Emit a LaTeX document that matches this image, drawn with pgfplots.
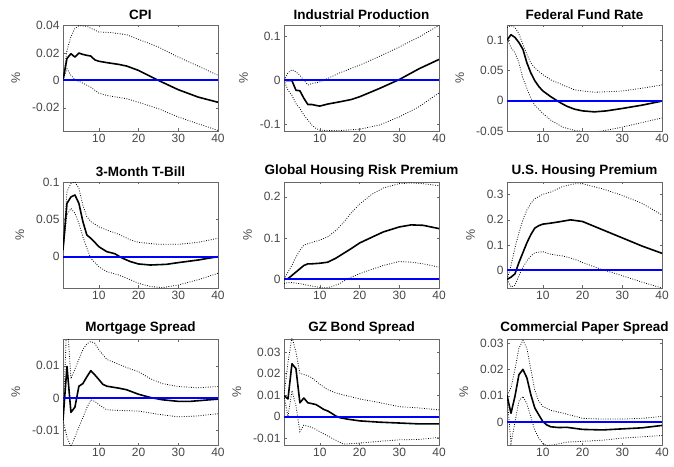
\documentclass[border=0pt]{standalone}
\usepackage{fontspec}
\setmainfont{Liberation Sans}
\usepackage{pgfplots}
\pgfplotsset{compat=1.18}
\definecolor{axgray}{RGB}{38,38,38}
\definecolor{mblue}{RGB}{0,0,255}
\pgfplotsset{
  irf/.style={
    scale only axis, width=155pt, height=106pt, anchor=south west,
    xmin=1, xmax=40, xtick={10,20,30,40},
    scaled y ticks=false,
    /pgf/number format/assume math mode=true,
    /pgf/number format/fixed,
    /pgf/number format/precision=3,
    tick label style={font=\fontsize{12}{14}\selectfont, text=axgray!85},
    axis line style={axgray!70, line width=0.4pt},
    major tick style={axgray!70, line width=0.4pt},
    major tick length=2.5pt,
    tick align=inside,
    title style={font=\bfseries\fontsize{13.5}{15}\selectfont, yshift=-4.5pt},
    ylabel={\%},
    ylabel style={font=\fontsize{12.5}{14}\selectfont, text=axgray!85, yshift=5pt},
    clip=true,
  },
  mainl/.style={black, line width=1.6pt, line join=round},
  band/.style={black, line width=0.8pt, dash pattern=on 0.8pt off 1.6pt},
  zerol/.style={mblue, line width=2pt},
}
\begin{document}
\begin{tikzpicture}[x=1pt,y=1pt]
\path[use as bounding box] (0,0) rectangle (674,466);
% ---------- Row 1 ----------
\begin{axis}[irf, at={(63pt,335pt)}, title={CPI}, ymin=-0.037, ymax=0.0405, ytick={-0.02,0,0.02,0.04}]
\addplot[band] coordinates {(1,0)(2,0.022)(3,0.032)(4,0.038)(5,0.040)(7,0.0395)(10,0.0354)(13,0.035)(17,0.0334)(20,0.030)(25,0.0244)(30,0.017)(35,0.0105)(40,0.0037)};
\addplot[band] coordinates {(1,0)(2,0.0085)(3,0.0037)(4,0.0005)(6,-0.002)(8,-0.005)(10,-0.0093)(12,-0.011)(17,-0.0134)(20,-0.016)(25,-0.0207)(30,-0.0268)(35,-0.0317)(40,-0.0366)};
\addplot[mainl] coordinates {(1,0)(2,0.016)(3,0.0195)(4,0.017)(5,0.020)(6,0.019)(7,0.0183)(8,0.0178)(9,0.015)(10,0.014)(12,0.013)(15,0.0117)(17,0.0105)(20,0.0073)(25,0)(30,-0.0068)(35,-0.0122)(40,-0.016)};
\addplot[zerol] coordinates {(1,0)(40,0)};
\end{axis}
\begin{axis}[irf, at={(284pt,335pt)}, title={Industrial Production}, ymin=-0.115, ymax=0.125, ytick={-0.1,0,0.1}]
\addplot[band] coordinates {(1,0)(2,0.0165)(3,0.024)(4,0.019)(5,0.011)(6,0)(7,-0.011)(8,-0.0075)(10,-0.004)(12,0.004)(15,0.0165)(20,0.034)(25,0.054)(30,0.075)(35,0.098)(40,0.124)};
\addplot[band] coordinates {(1,0)(2,-0.0226)(3,-0.034)(4,-0.053)(5,-0.064)(6,-0.079)(7,-0.09)(8,-0.1015)(9,-0.109)(10,-0.113)(12,-0.114)(15,-0.114)(20,-0.111)(25,-0.1015)(30,-0.083)(35,-0.06)(40,-0.0286)};
\addplot[mainl] coordinates {(1,0)(2,-0.001)(3,-0.001)(4,-0.0226)(5,-0.024)(6,-0.041)(7,-0.055)(8,-0.055)(9,-0.057)(10,-0.0586)(12,-0.054)(15,-0.049)(18,-0.0436)(20,-0.0376)(25,-0.0188)(30,0.0015)(35,0.026)(40,0.047)};
\addplot[zerol] coordinates {(1,0)(40,0)};
\end{axis}
\begin{axis}[irf, at={(507pt,335pt)}, title={Federal Fund Rate}, ymin=-0.05, ymax=0.125, ytick={-0.05,0,0.05,0.1}]
\addplot[band] coordinates {(1,0.121)(2,0.124)(3,0.121)(4,0.11)(5,0.093)(6,0.0765)(7,0.0626)(8,0.054)(10,0.043)(12,0.0346)(15,0.026)(18,0.0179)(20,0.0162)(23,0.014)(27,0.015)(30,0.016)(35,0.0207)(40,0.026)};
\addplot[band] coordinates {(1,0.1017)(2,0.088)(3,0.079)(4,0.0626)(5,0.037)(6,0.0207)(7,0.0039)(8,-0.0073)(10,-0.021)(12,-0.032)(15,-0.0436)(18,-0.049)(22,-0.052)(25,-0.050)(30,-0.0436)(35,-0.036)(40,-0.0285)};
\addplot[mainl] coordinates {(1,0.1)(2,0.109)(3,0.1045)(4,0.096)(5,0.085)(6,0.0626)(7,0.0458)(8,0.033)(9,0.0235)(10,0.0162)(12,0.0067)(14,-0.0017)(16,-0.009)(18,-0.014)(20,-0.0168)(23,-0.0184)(26,-0.0168)(30,-0.0128)(35,-0.0073)(40,-0.0006)};
\addplot[zerol] coordinates {(1,0)(40,0)};
\end{axis}
% ---------- Row 2 ----------
\begin{axis}[irf, at={(63pt,178pt)}, title={3-Month T-Bill}, ymin=-0.042, ymax=0.1, ytick={0,0.05,0.1}]
\addplot[band] coordinates {(1,0.0089)(2,0.087)(3,0.098)(4,0.1)(5,0.0915)(6,0.069)(7,0.0536)(8,0.047)(10,0.040)(12,0.0357)(15,0.030)(18,0.0223)(20,0.0192)(25,0.0165)(30,0.0165)(35,0.0192)(40,0.0246)};
\addplot[band] coordinates {(1,0.0089)(2,0.0558)(3,0.0647)(4,0.058)(5,0.0446)(6,0.0268)(7,0.0112)(8,-0.0022)(10,-0.0134)(12,-0.020)(15,-0.0246)(18,-0.031)(20,-0.0357)(23,-0.040)(26,-0.0415)(30,-0.038)(35,-0.031)(40,-0.0223)};
\addplot[mainl] coordinates {(1,0.0089)(2,0.0714)(3,0.080)(4,0.0826)(5,0.0714)(6,0.047)(7,0.029)(8,0.0246)(9,0.0192)(10,0.0134)(12,0.0067)(14,0.004)(16,-0.0022)(18,-0.0067)(20,-0.0098)(23,-0.0112)(27,-0.0103)(30,-0.008)(35,-0.0045)(40,0)};
\addplot[zerol] coordinates {(1,0)(40,0)};
\end{axis}
\begin{axis}[irf, at={(284pt,178pt)}, title={Global Housing Risk Premium}, ymin=-0.021, ymax=0.236, ytick={0,0.1,0.2}]
\addplot[band] coordinates {(1,0)(2,0.0176)(3,0.034)(4,0.054)(5,0.07)(6,0.083)(8,0.0896)(10,0.095)(12,0.103)(14,0.118)(16,0.138)(18,0.162)(20,0.182)(23,0.2056)(26,0.2216)(30,0.232)(33,0.2336)(36,0.232)(40,0.227)};
\addplot[band] coordinates {(1,-0.0104)(2,-0.008)(3,-0.008)(5,-0.0104)(7,-0.0144)(9,-0.018)(11,-0.021)(13,-0.018)(15,-0.0104)(17,0.0016)(20,0.0136)(23,0.024)(26,0.0336)(30,0.0432)(33,0.0416)(36,0.0376)(40,0.0296)};
\addplot[mainl] coordinates {(1,0)(2,0.0016)(3,0.0096)(4,0.0176)(5,0.0256)(6,0.0336)(7,0.0376)(8,0.0376)(10,0.039)(12,0.0416)(14,0.051)(16,0.063)(18,0.075)(20,0.088)(23,0.1016)(26,0.115)(30,0.127)(33,0.132)(36,0.131)(40,0.123)};
\addplot[zerol] coordinates {(1,0)(40,0)};
\end{axis}
\begin{axis}[irf, at={(507pt,178pt)}, title={U.S. Housing Premium}, ymin=-0.07, ymax=0.35, ytick={0,0.1,0.2,0.3}]
\addplot[band] coordinates {(1,-0.036)(2,0.018)(3,0.0896)(4,0.148)(5,0.2)(6,0.239)(7,0.265)(8,0.284)(10,0.301)(12,0.31)(15,0.332)(18,0.343)(20,0.343)(25,0.323)(30,0.297)(35,0.265)(40,0.2195)};
\addplot[band] coordinates {(1,-0.036)(2,-0.066)(3,-0.06)(4,-0.021)(5,0.0117)(6,0.0377)(7,0.057)(8,0.070)(10,0.074)(12,0.0636)(15,0.057)(18,0.044)(20,0.031)(25,0.0026)(30,-0.021)(35,-0.047)(40,-0.070)};
\addplot[mainl] coordinates {(1,-0.036)(2,-0.027)(3,-0.014)(4,0.031)(5,0.070)(6,0.109)(7,0.1416)(8,0.1675)(9,0.177)(10,0.183)(12,0.187)(14,0.192)(17,0.2)(20,0.1935)(25,0.161)(30,0.1286)(35,0.096)(40,0.0675)};
\addplot[zerol] coordinates {(1,0)(40,0)};
\end{axis}
% ---------- Row 3 ----------
\begin{axis}[irf, at={(63pt,21pt)}, title={Mortgage Spread}, ymin=-0.0145, ymax=0.0183, ytick={-0.01,0,0.01}]
\addplot[band] coordinates {(1,-0.0068)(2,0.025)(3,0.006)(4,0.009)(5,0.012)(6,0.015)(7,0.0168)(8,0.0175)(9,0.017)(10,0.015)(12,0.012)(15,0.0105)(18,0.009)(20,0.0082)(23,0.006)(26,0.0045)(30,0.0036)(35,0.0032)(40,0.0036)};
\addplot[band] coordinates {(1,-0.0068)(2,-0.012)(3,-0.015)(4,-0.012)(5,-0.009)(6,-0.006)(7,-0.003)(8,-0.0005)(9,-0.001)(10,-0.002)(12,-0.0036)(15,-0.0038)(20,-0.004)(25,-0.005)(30,-0.0058)(35,-0.0055)(40,-0.0048)};
\addplot[mainl] coordinates {(1,-0.0068)(2,0.0098)(3,-0.0044)(4,-0.0028)(5,0.0037)(6,0.0045)(7,0.0066)(8,0.0085)(9,0.0072)(10,0.0058)(11,0.0043)(12,0.0037)(13,0.0035)(15,0.0031)(17,0.0026)(20,0.0012)(23,0.0002)(26,-0.0005)(30,-0.001)(33,-0.001)(36,-0.0007)(40,-0.0003)};
\addplot[zerol] coordinates {(1,0)(40,0)};
\end{axis}
\begin{axis}[irf, at={(284pt,21pt)}, title={GZ Bond Spread}, ymin=-0.0132, ymax=0.036, ytick={-0.01,0,0.01,0.02,0.03}]
\addplot[band] coordinates {(1,0.0097)(2,0.025)(3,0.037)(4,0.03)(5,0.02)(6,0.0195)(7,0.019)(8,0.018)(10,0.0150)(12,0.0125)(14,0.011)(16,0.0100)(20,0.0082)(25,0.0065)(30,0.0046)(35,0.004)(40,0.0031)};
\addplot[band] coordinates {(1,0.0097)(2,0.0)(3,0.012)(4,0.005)(5,-0.007)(6,-0.004)(8,-0.005)(10,-0.007)(13,-0.010)(16,-0.0128)(20,-0.0123)(25,-0.0115)(30,-0.0108)(35,-0.0106)(40,-0.0097)};
\addplot[mainl] coordinates {(1,0.0097)(2,0.0082)(3,0.0245)(4,0.0223)(5,0.0064)(6,0.0086)(7,0.0064)(8,0.006)(9,0.0056)(10,0.0045)(11,0.0033)(12,0.0026)(13,0.0015)(14,0.0003)(15,-0.0005)(17,-0.0012)(20,-0.002)(25,-0.0026)(30,-0.003)(35,-0.0034)(40,-0.0034)};
\addplot[zerol] coordinates {(1,0)(40,0)};
\end{axis}
\begin{axis}[irf, at={(507pt,21pt)}, title={Commercial Paper Spread}, ymin=-0.0086, ymax=0.0315, ytick={0,0.01,0.02,0.03}]
\addplot[band] coordinates {(1,0.0102)(2,0.013)(3,0.02)(4,0.028)(5,0.031)(6,0.028)(7,0.02)(8,0.012)(9,0.008)(10,0.006)(12,0.0045)(15,0.0035)(20,0.0015)(25,0.0012)(30,0.0012)(35,0.0015)(40,0.0022)};
\addplot[band] coordinates {(1,0.0102)(2,-0.008)(3,0.0)(4,0.008)(5,0.0098)(6,0.007)(7,0.002)(8,-0.003)(9,-0.006)(10,-0.008)(11,-0.0088)(13,-0.0085)(16,-0.0075)(20,-0.0072)(25,-0.0068)(30,-0.006)(35,-0.0055)(40,-0.005)};
\addplot[mainl] coordinates {(1,0.0102)(2,0.0034)(3,0.0098)(4,0.018)(5,0.020)(6,0.0168)(7,0.0104)(8,0.0054)(9,0.0028)(10,0.0003)(11,-0.001)(12,-0.0017)(14,-0.002)(16,-0.0019)(20,-0.0027)(25,-0.0029)(30,-0.0025)(35,-0.0021)(40,-0.0012)};
\addplot[zerol] coordinates {(1,0)(40,0)};
\end{axis}
\end{tikzpicture}
\end{document}
